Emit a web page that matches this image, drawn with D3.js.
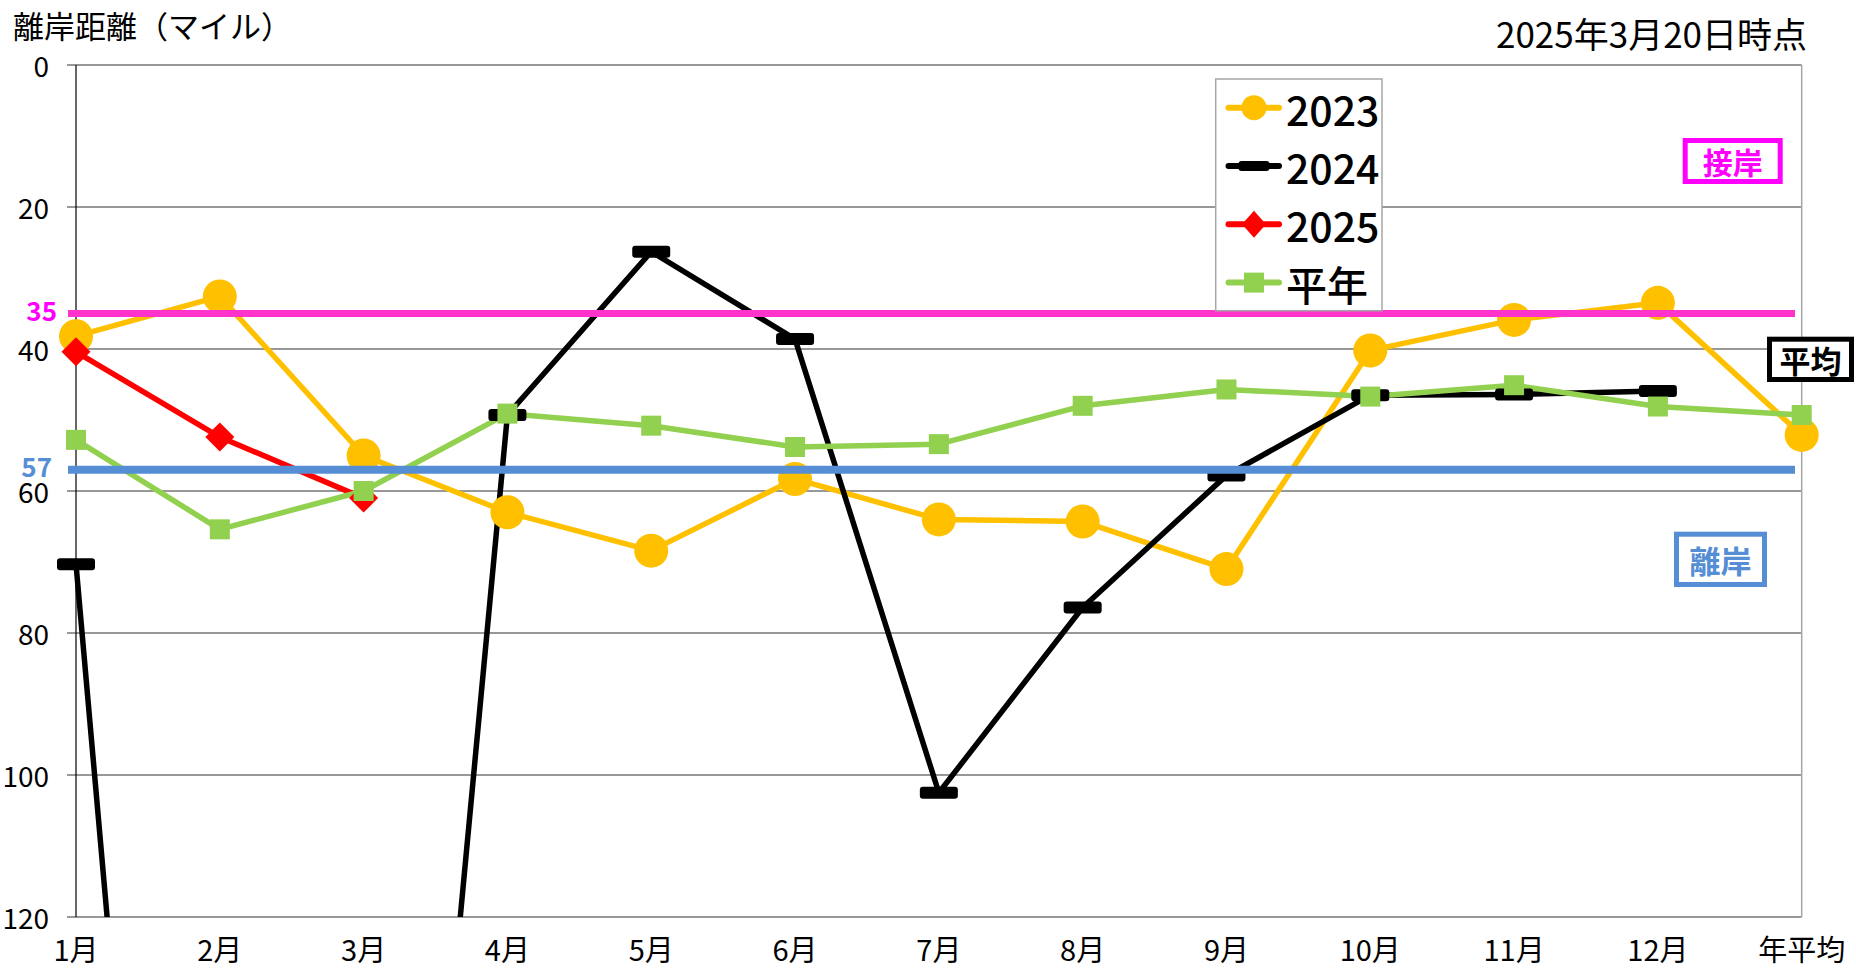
<!DOCTYPE html>
<html>
<head>
<meta charset="utf-8">
<script src="https://cdn.jsdelivr.net/npm/d3@7"></script>
<style>
  html, body { margin: 0; padding: 0; background: #fff; }
  svg { display: block; font-family: "Noto Sans CJK JP", "Noto Sans", sans-serif; }
</style>
</head>
<body>
<div id="chart"></div>
<script>
// Data (distance from shore, miles)
const MONTHS = ["1月", "2月", "3月", "4月", "5月", "6月", "7月", "8月", "9月", "10月", "11月", "12月", "年平均"];
const Y_TICKS = [0, 20, 40, 60, 80, 100, 120];
const SERIES_NAMES = ["2023", "2024", "2025", "平年"];
const VALUES_2023 = [38.2, 32.6, 55.0, 63.0, 68.4, 58.3, 64.0, 64.3, 71.0, 40.2, 35.9, 33.5, 52.1];
const VALUES_2024 = [70.3, 300, 265, 49.3, 26.3, 38.6, 102.5, 76.4, 57.8, 46.5, 46.4, 45.9, null];
const VALUES_2025 = [40.4, 52.4, 61.0, null, null, null, null, null, null, null, null, null, null];
const VALUES_NORMAL = [52.8, 65.4, 60.0, 49.1, 50.8, 53.8, 53.4, 48.0, 45.7, 46.7, 45.1, 48.1, 49.3];
const REF_VALUES = [35, 57];

// Layout
const width = 1856;
const height = 973;
const PLOT_LEFT = 76;
const PLOT_RIGHT = 1801.7;
const PLOT_TOP = 65;
const PLOT_BOTTOM = 917;

const COLOR_2023 = "#ffc000";
const COLOR_2024 = "#000000";
const COLOR_2025 = "#ff0000";
const COLOR_NORMAL = "#92d050";
const COLOR_NEAR = "#ff33cc";
const COLOR_NEAR_TEXT = "#ff00ff";
const COLOR_FAR = "#558ed5";

const series = [
  { name: SERIES_NAMES[0], values: VALUES_2023, color: COLOR_2023, marker: "circle" },
  { name: SERIES_NAMES[1], values: VALUES_2024, color: COLOR_2024, marker: "dash" },
  { name: SERIES_NAMES[2], values: VALUES_2025, color: COLOR_2025, marker: "diamond" },
  { name: SERIES_NAMES[3], values: VALUES_NORMAL, color: COLOR_NORMAL, marker: "square" }
];

const x = d3.scalePoint().domain(MONTHS).range([PLOT_LEFT, PLOT_RIGHT]);
const y = d3.scaleLinear().domain([0, 120]).range([PLOT_TOP, PLOT_BOTTOM]);

const svg = d3.select("#chart")
  .append("svg")
  .attr("width", width)
  .attr("height", height)
  .attr("viewBox", [0, 0, width, height]);

// clip the lines to the plot height (2024 goes far off the bottom)
svg.append("defs").append("clipPath")
  .attr("id", "plot-clip")
  .append("rect")
  .attr("x", 0)
  .attr("y", PLOT_TOP)
  .attr("width", width)
  .attr("height", PLOT_BOTTOM - PLOT_TOP);

// Gridlines
svg.append("g")
  .selectAll("line")
  .data(Y_TICKS)
  .join("line")
  .attr("x1", PLOT_LEFT - 9)
  .attr("x2", PLOT_RIGHT)
  .attr("y1", d => y(d))
  .attr("y2", d => y(d))
  .attr("stroke", "#333")
  .attr("stroke-width", 1.2);

// Right border of the plot area
svg.append("line")
  .attr("x1", PLOT_RIGHT).attr("x2", PLOT_RIGHT)
  .attr("y1", PLOT_TOP).attr("y2", PLOT_BOTTOM)
  .attr("stroke", "#a6a6a6")
  .attr("stroke-width", 1.5);

// Y axis line
svg.append("line")
  .attr("x1", PLOT_LEFT).attr("x2", PLOT_LEFT)
  .attr("y1", PLOT_TOP).attr("y2", PLOT_BOTTOM)
  .attr("stroke", "#000")
  .attr("stroke-width", 1.2);

// Y tick labels
svg.append("g")
  .selectAll("text")
  .data(Y_TICKS)
  .join("text")
  .attr("x", 49)
  .attr("y", d => y(d))
  .attr("text-anchor", "end")
  .attr("dominant-baseline", "central")
  .attr("font-size", "28px")
  .attr("fill", "#000")
  .text(d => d);

// X labels
svg.append("g")
  .selectAll("text")
  .data(MONTHS)
  .join("text")
  .attr("x", d => x(d))
  .attr("y", 948)
  .attr("text-anchor", "middle")
  .attr("dominant-baseline", "central")
  .attr("font-size", "29px")
  .attr("fill", "#000")
  .text(d => d);

// Titles
svg.append("text")
  .attr("x", 13)
  .attr("y", 24)
  .attr("dominant-baseline", "central")
  .attr("font-size", "31px")
  .text("離岸距離（マイル）");

svg.append("text")
  .attr("x", 1807)
  .attr("y", 32)
  .attr("text-anchor", "end")
  .attr("dominant-baseline", "central")
  .attr("font-size", "35px")
  .text("2025年3月20日時点");

// Marker drawing helper
function drawMarker(sel, type, color, size) {
  if (type === "circle") {
    sel.append("circle").attr("r", size.r).attr("fill", color);
  } else if (type === "dash") {
    sel.append("rect")
      .attr("x", -size.w / 2).attr("y", -size.h / 2)
      .attr("width", size.w).attr("height", size.h)
      .attr("rx", 3)
      .attr("fill", color);
  } else if (type === "diamond") {
    const a = size.dx, b = size.dy;
    sel.append("path")
      .attr("d", `M0,${-b}L${a},0L0,${b}L${-a},0Z`)
      .attr("fill", color);
  } else if (type === "square") {
    sel.append("rect")
      .attr("x", -size.s / 2).attr("y", -size.s / 2)
      .attr("width", size.s).attr("height", size.s)
      .attr("fill", color);
  }
}

const PLOT_MARKER = { r: 17, w: 38, h: 12, dx: 14.5, dy: 14.5, s: 20 };
const LEGEND_MARKER = { r: 12.5, w: 31, h: 10, dx: 12, dy: 13.5, s: 20 };

// Series lines
const line = d3.line()
  .defined(d => d.v !== null)
  .x(d => x(d.m))
  .y(d => y(d.v));

const linesG = svg.append("g").attr("clip-path", "url(#plot-clip)");
series.forEach(s => {
  const pts = MONTHS.map((m, i) => ({ m, v: s.values[i] }));
  linesG.append("path")
    .datum(pts)
    .attr("d", line)
    .attr("fill", "none")
    .attr("stroke", s.color)
    .attr("stroke-width", 5.5)
    .attr("stroke-linejoin", "round");
});

// Series markers (only those inside the plot range)
series.forEach(s => {
  const pts = MONTHS.map((m, i) => ({ m, v: s.values[i] }))
    .filter(d => d.v !== null && d.v >= 0 && d.v <= 120);
  svg.append("g")
    .selectAll("g")
    .data(pts)
    .join("g")
    .attr("transform", d => `translate(${x(d.m)},${y(d.v)})`)
    .each(function () { drawMarker(d3.select(this), s.marker, s.color, PLOT_MARKER); });
});

// Reference lines (35 = near shore, 57 = off shore)
const refColors = [COLOR_NEAR, COLOR_FAR];
const refWidths = [7, 8];
svg.append("g")
  .selectAll("line")
  .data(REF_VALUES)
  .join("line")
  .attr("x1", 68)
  .attr("x2", 1795)
  .attr("y1", d => y(d))
  .attr("y2", d => y(d))
  .attr("stroke", (d, i) => refColors[i])
  .attr("stroke-width", (d, i) => refWidths[i]);

const refLabelColors = [COLOR_NEAR_TEXT, COLOR_FAR];
const refLabelX = [57, 52];
svg.append("g")
  .selectAll("text")
  .data(REF_VALUES)
  .join("text")
  .attr("x", (d, i) => refLabelX[i])
  .attr("y", (d, i) => y(d) - (i === 0 ? 4 : 4))
  .attr("text-anchor", "end")
  .attr("dominant-baseline", "central")
  .attr("font-size", "26px")
  .attr("font-weight", "bold")
  .attr("fill", (d, i) => refLabelColors[i])
  .text(d => d);

// Legend
const legend = svg.append("g").attr("class", "legend");
legend.append("rect")
  .attr("x", 1215.7)
  .attr("y", 79)
  .attr("width", 166.3)
  .attr("height", 231.7)
  .attr("fill", "#fff")
  .attr("stroke", "#a6a6a6")
  .attr("stroke-width", 1.5);

const legendRows = legend.selectAll(".legend-row")
  .data(series)
  .join("g")
  .attr("class", "legend-row")
  .attr("transform", (d, i) => `translate(0,${107.7 + i * 58.3})`);

legendRows.append("line")
  .attr("x1", 1228.5)
  .attr("x2", 1279)
  .attr("stroke", d => d.color)
  .attr("stroke-width", 6)
  .attr("stroke-linecap", "round");

legendRows.append("g")
  .attr("transform", "translate(1254,0)")
  .each(function (d) { drawMarker(d3.select(this), d.marker, d.color, LEGEND_MARKER); });

legendRows.append("text")
  .attr("x", 1286)
  .attr("y", 0)
  .attr("dominant-baseline", "central")
  .attr("font-size", "41px")
  .attr("font-weight", "500")
  .attr("fill", "#000")
  .text(d => d.name);

// Annotation boxes
const boxes = [
  { label: "接岸", x: 1682.7, y: 138, w: 100, h: 46, color: COLOR_NEAR_TEXT, size: 30 },
  { label: "平均", x: 1767, y: 336.7, w: 87, h: 45.3, color: "#000", size: 31 },
  { label: "離岸", x: 1674, y: 531.7, w: 93, h: 55.3, color: COLOR_FAR, size: 31 }
];
const boxG = svg.append("g")
  .selectAll("g")
  .data(boxes)
  .join("g");

boxG.append("rect")
  .attr("x", d => d.x + 2.5)
  .attr("y", d => d.y + 2.5)
  .attr("width", d => d.w - 5)
  .attr("height", d => d.h - 5)
  .attr("fill", "#fff")
  .attr("stroke", d => d.color)
  .attr("stroke-width", 5);

boxG.append("text")
  .attr("x", d => d.x + d.w / 2)
  .attr("y", d => d.y + d.h / 2)
  .attr("text-anchor", "middle")
  .attr("dominant-baseline", "central")
  .attr("font-size", d => d.size + "px")
  .attr("font-weight", "bold")
  .attr("fill", d => d.color)
  .text(d => d.label);
</script>
</body>
</html>
